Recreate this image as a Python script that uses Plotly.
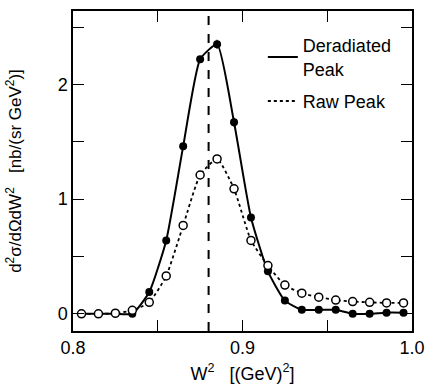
import plotly.graph_objects as go

w2 = [0.805, 0.815, 0.825, 0.835, 0.845, 0.855, 0.865, 0.875, 0.885, 0.895,
      0.905, 0.915, 0.925, 0.935, 0.945, 0.955, 0.965, 0.975, 0.985, 0.995]
deradiated = [0.0, 0.0, 0.0, 0.0, 0.19, 0.64, 1.46, 2.22, 2.35, 1.67,
              0.84, 0.37, 0.115, 0.035, 0.035, 0.035, 0.0, 0.0, 0.01, 0.01]
deradiated_err = [0, 0, 0, 0, 0.01, 0.01, 0.02, 0.02, 0.04, 0.04,
                  0.02, 0.01, 0.01, 0.01, 0.01, 0.01, 0.01, 0.01, 0.01, 0.01]
raw = [0.0, 0.0, 0.005, 0.03, 0.10, 0.33, 0.77, 1.21, 1.35, 1.09,
       0.64, 0.42, 0.25, 0.18, 0.145, 0.12, 0.107, 0.10, 0.095, 0.095]
nucleon_w2 = 0.880
x_ticks = [0.8, 0.9, 1.0]
x_tick_labels = ["0.8", "0.9", "1.0"]
y_ticks = [0, 1, 2]
y_tick_labels = ["0", "1", "2"]

font = "Liberation Sans, Arial, Helvetica, sans-serif"

fig = go.Figure()
fig.add_trace(go.Scatter(
    x=w2, y=deradiated, mode="lines+markers", name="Deradiated<br>Peak",
    line=dict(color="black", width=2, shape="spline", smoothing=0.5),
    marker=dict(color="black", size=8),
    error_y=dict(type="data", array=deradiated_err, color="black", thickness=1.2, width=0),
    showlegend=False,
))
fig.add_trace(go.Scatter(
    x=w2, y=raw, mode="lines+markers", name="Raw Peak",
    line=dict(color="black", width=1.8, dash="dot", shape="spline", smoothing=0.5),
    marker=dict(color="white", size=8, line=dict(color="black", width=1.5)),
    showlegend=False,
))
# legend-only entries (line samples)
fig.add_trace(go.Scatter(x=[None], y=[None], mode="lines", name="Deradiated<br>Peak",
                         legendgroup="a", line=dict(color="black", width=2)))
fig.add_trace(go.Scatter(x=[None], y=[None], mode="lines", name="Raw Peak",
                         legendgroup="b", line=dict(color="black", width=1.8, dash="dot")))

fig.add_shape(type="line", x0=nucleon_w2, x1=nucleon_w2, y0=0, y1=1, yref="paper",
              line=dict(color="black", width=2, dash="dash"))

axis_common = dict(
    showgrid=False, zeroline=False, showline=True, linecolor="black", linewidth=1.5,
    mirror="allticks", ticks="inside", ticklen=11, tickwidth=1.3, tickcolor="black",
    tickfont=dict(family=font, size=18, color="black"),
)
fig.update_xaxes(range=[0.8, 1.0], tickvals=x_ticks, ticktext=x_tick_labels,
                 minor=dict(ticks="inside", dtick=0.05, ticklen=11, tickwidth=1.3, tickcolor="black"),
                 title=dict(text="W<sup>2</sup>   [(GeV)<sup>2</sup>]",
                            font=dict(family=font, size=18, color="black"), standoff=10),
                 **axis_common)
fig.update_yaxes(range=[-0.15, 2.64], tickvals=y_ticks, ticktext=y_tick_labels,
                 minor=dict(ticks="inside", dtick=0.5, ticklen=11, tickwidth=1.3, tickcolor="black"),
                 title=dict(text="d<sup>2</sup>σ/dΩdW<sup>2</sup>   [nb/(sr GeV<sup>2</sup>)]",
                            font=dict(family=font, size=17, color="black"), standoff=32),
                 **axis_common)

fig.update_layout(
    width=434, height=391,
    margin=dict(l=73, r=14, t=9, b=60),
    paper_bgcolor="white", plot_bgcolor="white",
    font=dict(family=font, color="black"),
    legend=dict(x=0.56, y=0.95, xanchor="left", yanchor="top",
                bgcolor="rgba(0,0,0,0)", font=dict(family=font, size=18, color="black"),
                itemwidth=30, tracegroupgap=6),
)

fig.write_html("out.html")
